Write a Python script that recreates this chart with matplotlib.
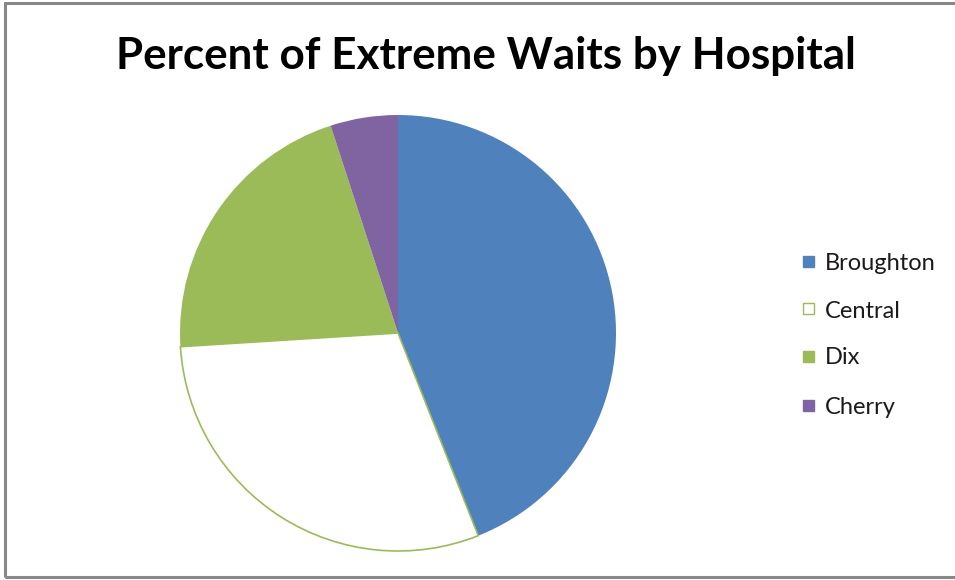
import matplotlib
matplotlib.use("Agg")
import matplotlib.pyplot as plt
from matplotlib.patches import Rectangle

plt.rcParams['font.family'] = ['Lato', 'DejaVu Sans']

categories = ["Broughton", "Central", "Dix", "Cherry"]
values = [44, 30, 21, 5]
colors = ["#4F81BD", "#FFFFFF", "#9BBB59", "#8064A2"]
edge_colors = ["#4F81BD", "#9BBB59", "#9BBB59", "#8064A2"]
title = "Percent of Extreme Waits by Hospital"

W, H = 955, 580
fig = plt.figure(figsize=(W/100, H/100), dpi=100)
fig.patch.set_facecolor("white")

# frame border
fig.add_artist(Rectangle((5/W, 3/H), 1.2, 574/H, transform=fig.transFigure,
                         fill=False, edgecolor="#888888", linewidth=2.2))

cx, cy, r = 398/W, 1 - 333/H, 218
ax = fig.add_axes([cx - r/W, cy - r/H, 2*r/W, 2*r/H])
wedges, _ = ax.pie(values, colors=colors, startangle=90, counterclock=False,
                   radius=1.0, wedgeprops=dict(linewidth=0))
wedges[1].set_edgecolor("#9BBB59")
wedges[1].set_linewidth(1.2)
ax.set_xlim(-1.0, 1.0)
ax.set_ylim(-1.0, 1.0)
ax.set_aspect("equal")
ax.axis("off")

fig.text(486/W, 1 - 56/H, title, ha="center", va="center",
         fontsize=31.7, fontweight="bold", color="black")

# legend
row_y = [261, 309, 356, 405]
sq = 11
for name, fc, ec, y in zip(categories, colors, edge_colors, row_y):
    fig.add_artist(Rectangle((803/W, 1 - (y + sq/2)/H), sq/W, sq/H,
                             transform=fig.transFigure, facecolor=fc,
                             edgecolor=ec, linewidth=1.0))
    fig.text(825/W, 1 - y/H, name, ha="left", va="center_baseline",
             fontsize=17, color="#1a1a1a")

fig.savefig("out.png", dpi=100)
